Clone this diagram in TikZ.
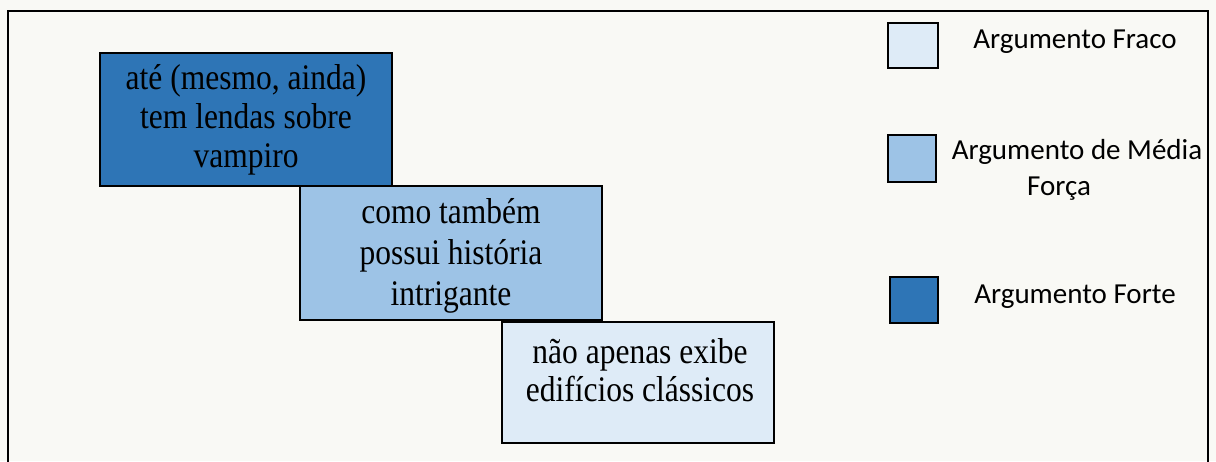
\documentclass[tikz,border=0pt]{standalone}
\usepackage{fontspec}
\usepackage{graphicx}
\setmainfont{Liberation Serif}
\newfontfamily\legfont{Carlito}
\definecolor{bgc}{HTML}{F9F9F5}
\definecolor{strongc}{HTML}{2E75B6}
\definecolor{midc}{HTML}{9DC3E6}
\definecolor{weakc}{HTML}{DEEBF7}
\newcommand{\condtext}[2][39]{\scalebox{0.875}[1]{\fontsize{36}{#1}\selectfont\begin{tabular}{@{}c@{}}#2\end{tabular}}}
\tikzset{
  argbox/.style={draw=black, line width=2.5pt, inner sep=0pt, align=center},
  argtext/.style={inner sep=0pt},
  legbox/.style={draw=black, line width=2pt, inner sep=0pt},
  legtext/.style={inner sep=0pt, font=\legfont\fontsize{29}{35}\selectfont}
}
\begin{document}
\begin{tikzpicture}[x=1pt,y=-1pt]
\useasboundingbox (0,0) rectangle (1216,461);
\fill[bgc] (0,0) rectangle (1216,461);
\draw[line width=2.5pt] (8,11) rectangle (1208,480);

% argument boxes
\node[argbox, fill=strongc, minimum width=292pt, minimum height=133pt] (b1) at (246,119.5) {};
\node[argtext] (t1) at (246,121) {\condtext{até (mesmo, ainda)\\tem lendas sobre\\vampiro}};
\node[argbox, fill=midc, minimum width=302pt, minimum height=134pt] (b2) at (451,253) {};
\node[argtext] (t2) at (451,256.5) {\condtext[41]{como também\\possui história\\intrigante}};
\node[argbox, fill=weakc, minimum width=272pt, minimum height=121pt] (b3) at (638,382.5) {};
\node[argtext] (t3) at (640,375) {\condtext[38.5]{não apenas exibe\\edifícios clássicos}};

% legend
\node[legbox, fill=weakc, minimum width=50pt, minimum height=45pt] (l1) at (913,45) {};
\node[legbox, fill=midc, minimum width=48pt, minimum height=47pt] (l2) at (912,158) {};
\node[legbox, fill=strongc, minimum width=48pt, minimum height=46pt] (l3) at (914,300) {};
\node[legtext] (lt1) at (1075,42) {Argumento Fraco};
\node[legtext] (lt2a) at (1077,152) {Argumento de Média};
\node[legtext] (lt2b) at (1059,189) {Força};
\node[legtext] (lt3) at (1075,297) {Argumento Forte};
\end{tikzpicture}
\end{document}
